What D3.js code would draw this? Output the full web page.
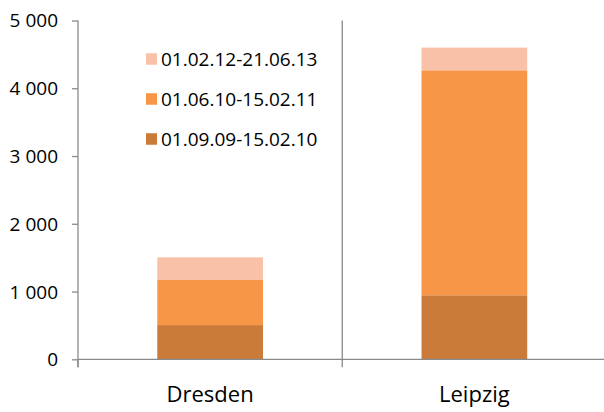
<!DOCTYPE html>
<html>
<head>
<meta charset="utf-8">
<script src="https://cdn.jsdelivr.net/npm/d3@7"></script>
<style>
  html, body { margin: 0; padding: 0; background: #fff; }
  svg { display: block; font-family: "Open Sans", sans-serif; }
</style>
</head>
<body>
<svg id="chart" width="604" height="412"></svg>
<script>
// Cities on the category axis
const categories = ["Dresden", "Leipzig"];

// Periods, bottom segment first
const periods = ["01.09.09-15.02.10", "01.06.10-15.02.11", "01.02.12-21.06.13"];

// Counts per period, one value per city
const period1 = [505, 945];
const period2 = [665, 3320];
const period3 = [335, 335];

const colors = ["#CB7B39", "#F79646", "#F9C2A8"];

const yTicks = [0, 1000, 2000, 3000, 4000, 5000];

const svg = d3.select("#chart");
const plotLeft = 78, plotRight = 606.5, plotTop = 20.5, plotBottom = 359.3;

const x = d3.scaleBand().domain(categories).range([plotLeft, plotRight])
  .paddingInner(0.6).paddingOuter(0.3);
const y = d3.scaleLinear().domain([0, 5000]).range([plotBottom, plotTop]);

const rows = categories.map((c, i) => ({ city: c, p0: period1[i], p1: period2[i], p2: period3[i] }));
const series = d3.stack().keys(["p0", "p1", "p2"])(rows);

// Stacked bars
svg.append("g").selectAll("g").data(series).join("g")
  .attr("fill", (d, i) => colors[i])
  .selectAll("rect").data(d => d).join("rect")
  .attr("x", d => x(d.data.city))
  .attr("width", x.bandwidth())
  .attr("y", d => y(d[1]))
  .attr("height", d => y(d[0]) - y(d[1]));

const axisColor = "#8a8a8a";

// Value axis
const yAxis = svg.append("g").attr("transform", `translate(${plotLeft},0)`)
  .call(d3.axisLeft(y).tickValues(yTicks).tickSize(6).tickPadding(14)
    .tickFormat(v => d3.format(",")(v).replace(/,/g, " ")));
yAxis.select(".domain").remove();
yAxis.selectAll(".tick line").attr("stroke", axisColor).attr("stroke-width", 1.3);
yAxis.selectAll(".tick text").attr("fill", "#000").attr("font-size", 19)
  .attr("font-family", "Open Sans, sans-serif").attr("dy", "0.34em");
svg.append("line").attr("x1", plotLeft).attr("x2", plotLeft).attr("y1", plotTop).attr("y2", plotBottom + 8)
  .attr("stroke", axisColor).attr("stroke-width", 1.3);

// Category axis
svg.append("line").attr("x1", plotLeft).attr("x2", plotRight).attr("y1", plotBottom).attr("y2", plotBottom)
  .attr("stroke", axisColor).attr("stroke-width", 1.3);
const boundaries = [plotLeft, ...categories.map(c => x(c) + x.bandwidth() + x.step() * 0.3)];
svg.append("g").selectAll("line").data(boundaries).join("line")
  .attr("x1", d => d).attr("x2", d => d)
  .attr("y1", (d, i) => (i === 1 ? plotTop : plotBottom)).attr("y2", plotBottom + 8)
  .attr("stroke", axisColor).attr("stroke-width", 1.3);
svg.append("g").selectAll("text").data(categories).join("text")
  .attr("x", d => x(d) + x.bandwidth() / 2)
  .attr("y", 401.5)
  .attr("text-anchor", "middle")
  .attr("font-size", 22)
  .attr("fill", "#000")
  .text(d => d);

// Legend, top period first
const legend = svg.append("g").selectAll("g").data(periods.map((p, i) => ({ p, i })).reverse())
  .join("g").attr("transform", (d, k) => `translate(146,${59 + k * 40})`);
legend.append("rect").attr("x", 0).attr("y", -5.75).attr("width", 11).attr("height", 11.5)
  .attr("fill", d => colors[d.i]);
legend.append("text").attr("x", 15).attr("y", 0).attr("dy", "0.35em")
  .attr("font-size", 19).attr("fill", "#000").text(d => d.p);
</script>
</body>
</html>
